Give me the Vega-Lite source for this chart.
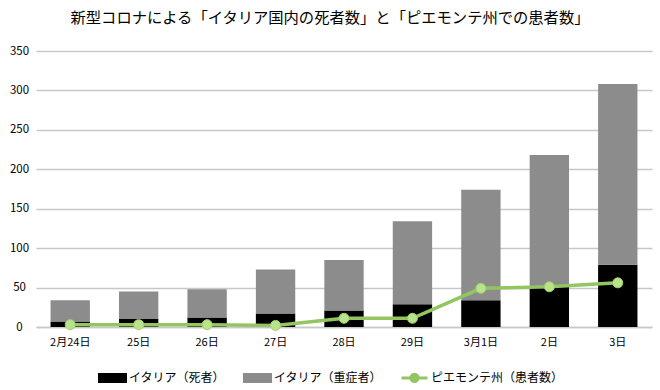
{
  "$schema": "https://vega.github.io/schema/vega-lite/v6.json",
  "autosize": {"type": "none"},
  "width": 616,
  "height": 276,
  "padding": {"left": 36, "top": 51, "right": 8, "bottom": 63},
  "background": "#ffffff",
  "title": {
    "text": "新型コロナによる「イタリア国内の死者数」と「ピエモンテ州での患者数」",
    "font": "Noto Sans CJK JP",
    "fontSize": 15.3,
    "fontWeight": "normal",
    "color": "#000000",
    "anchor": "middle",
    "dx": -14,
    "offset": 19
  },
  "config": {
    "view": {"stroke": null},
    "font": "Noto Sans CJK JP"
  },
  "data": {
    "values": [
      {"date": "2月24日", "series": "イタリア（死者）", "value": 7},
      {"date": "25日", "series": "イタリア（死者）", "value": 10},
      {"date": "26日", "series": "イタリア（死者）", "value": 12},
      {"date": "27日", "series": "イタリア（死者）", "value": 17},
      {"date": "28日", "series": "イタリア（死者）", "value": 21},
      {"date": "29日", "series": "イタリア（死者）", "value": 29},
      {"date": "3月1日", "series": "イタリア（死者）", "value": 34},
      {"date": "2日", "series": "イタリア（死者）", "value": 52},
      {"date": "3日", "series": "イタリア（死者）", "value": 79},
      {"date": "2月24日", "series": "イタリア（重症者）", "value": 27},
      {"date": "25日", "series": "イタリア（重症者）", "value": 35},
      {"date": "26日", "series": "イタリア（重症者）", "value": 36},
      {"date": "27日", "series": "イタリア（重症者）", "value": 56},
      {"date": "28日", "series": "イタリア（重症者）", "value": 64},
      {"date": "29日", "series": "イタリア（重症者）", "value": 105},
      {"date": "3月1日", "series": "イタリア（重症者）", "value": 140},
      {"date": "2日", "series": "イタリア（重症者）", "value": 166},
      {"date": "3日", "series": "イタリア（重症者）", "value": 229},
      {"date": "2月24日", "series": "ピエモンテ州（患者数）", "value": 3},
      {"date": "25日", "series": "ピエモンテ州（患者数）", "value": 3},
      {"date": "26日", "series": "ピエモンテ州（患者数）", "value": 3},
      {"date": "27日", "series": "ピエモンテ州（患者数）", "value": 2},
      {"date": "28日", "series": "ピエモンテ州（患者数）", "value": 11},
      {"date": "29日", "series": "ピエモンテ州（患者数）", "value": 11},
      {"date": "3月1日", "series": "ピエモンテ州（患者数）", "value": 49},
      {"date": "2日", "series": "ピエモンテ州（患者数）", "value": 51},
      {"date": "3日", "series": "ピエモンテ州（患者数）", "value": 56}
    ]
  },
  "encoding": {
    "x": {
      "field": "date",
      "type": "ordinal",
      "sort": null,
      "scale": {"paddingInner": 0.425, "paddingOuter": 0.2125},
      "axis": {
        "title": null,
        "labelAngle": 0,
        "ticks": false,
        "labelPadding": 9,
        "labelFont": "Noto Sans CJK JP",
        "labelFontSize": 11,
        "labelColor": "#000000",
        "domainColor": "#c8c8c8",
        "domainWidth": 1.5,
        "grid": false
      }
    },
    "y": {
      "field": "value",
      "type": "quantitative",
      "scale": {"domain": [0, 350], "nice": false},
      "axis": {
        "title": null,
        "values": [0, 50, 100, 150, 200, 250, 300, 350],
        "labelOverlap": false,
        "ticks": false,
        "domain": false,
        "labelAlign": "center",
        "labelPadding": 17,
        "labelFont": "Noto Sans CJK JP",
        "labelFontSize": 11.5,
        "labelColor": "#000000",
        "gridColor": "#c8c8c8",
        "gridWidth": 1.5
      }
    }
  },
  "layer": [
    {
      "transform": [{"filter": "datum.series !== 'ピエモンテ州（患者数）'"}],
      "mark": {"type": "bar"},
      "encoding": {
        "order": {"field": "series", "sort": "ascending"},
        "color": {
          "field": "series",
          "type": "nominal",
          "scale": {
            "domain": ["イタリア（死者）", "イタリア（重症者）", "ピエモンテ州（患者数）"],
            "range": ["#000000", "#8c8c8c", "#93c560"]
          },
          "legend": {
            "title": null,
            "orient": "none",
            "direction": "horizontal",
            "legendX": 62,
            "legendY": 312,
            "labelFont": "Noto Sans CJK JP",
            "labelFontSize": 12,
            "labelColor": "#000000",
            "labelOffset": 2,
            "columnPadding": 12,
            "symbolSize": 676,
            "encode": {
              "symbols": {
                "update": {
                  "shape": {"signal": "datum.value === 'ピエモンテ州（患者数）' ? 'M-1,0H-0.28M0.28,0H1M-0.28,0A0.28,0.28 0 1,0 0.28,0A0.28,0.28 0 1,0 -0.28,0Z' : 'M-1,-0.27H1V0.27H-1Z'"},
                  "fill": {"signal": "datum.value === 'ピエモンテ州（患者数）' ? '#b9e38a' : (datum.value === 'イタリア（死者）' ? '#000000' : '#8c8c8c')"},
                  "stroke": {"signal": "datum.value === 'ピエモンテ州（患者数）' ? '#93c560' : 'transparent'"},
                  "strokeWidth": {"value": 3},
                  "opacity": {"value": 1},
                  "fillOpacity": {"value": 1},
                  "size": {"value": 676}
                }
              }
            }
          }
        }
      }
    },
    {
      "transform": [{"filter": "datum.series === 'ピエモンテ州（患者数）'"}],
      "mark": {"type": "line", "strokeWidth": 3.5},
      "encoding": {
        "color": {"field": "series", "type": "nominal"}
      }
    },
    {
      "transform": [{"filter": "datum.series === 'ピエモンテ州（患者数）'"}],
      "mark": {"type": "point", "filled": true, "fill": "#b9e38a", "stroke": "#a2d06c", "strokeWidth": 1, "size": 100, "opacity": 1},
      "encoding": {}
    }
  ]
}
